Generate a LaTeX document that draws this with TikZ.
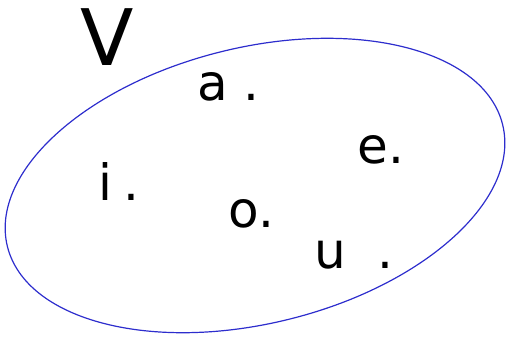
\documentclass[tikz,border=0pt]{standalone}
\usepackage{fontspec}
\setmainfont{DejaVu Sans}
\usetikzlibrary{shapes.geometric}
\definecolor{setblue}{RGB}{45,45,205}
\tikzset{
  setline/.style={draw=setblue, line width=1.2pt, ellipse, inner sep=0pt},
  elem/.style={anchor=base west, inner sep=0pt, font=\fontsize{50}{50}\selectfont},
  setname/.style={anchor=base west, inner sep=0pt, font=\fontsize{78}{78}\selectfont}
}
\begin{document}
\begin{tikzpicture}[x=1pt,y=-1pt]
\useasboundingbox (0,0) rectangle (506,338);
\node[setline, rotate=13.8, minimum width=510pt, minimum height=276pt] (S) at (255,185.5) {};
\node[setname] (V) at (80,65) {V};
\node[elem] (a) at (197,100) {a\hspace{16pt}.};
\node[elem] (e) at (357,163) {e\hspace{1pt}.};
\node[elem] (i) at (98,200) {i\hspace{11pt}.};
\node[elem] (o) at (228,227) {o\hspace{0pt}.};
\node[elem] (u) at (314,268) {u\hspace{32pt}.};
\end{tikzpicture}
\end{document}
